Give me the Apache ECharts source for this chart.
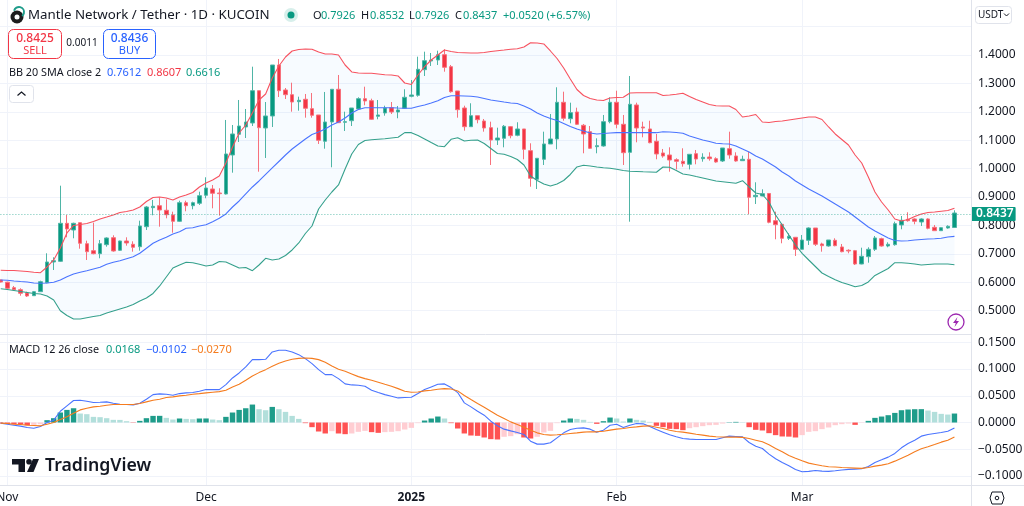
<!DOCTYPE html>
<html><head><meta charset="utf-8">
<style>html,body{margin:0;padding:0;background:#fff}#c{width:1024px;height:506px}</style>
<script src="https://cdn.jsdelivr.net/npm/echarts@6/dist/echarts.min.js"></script>
</head><body><div id="c"></div>
<script>
const opens=[.6078,.6001,.5807,.5736,.5620,.5525,.5666,.5983,.6712,.6736,.8074,.7838,.8096,.7356,.7110,.7004,.7321,.7567,.7124,.7451,.7335,.7250,.7955,.8624,.8694,.8532,.8367,.8145,.8800,.8694,.8779,.9060,.9282,.9141,.9106,1.0479,1.1208,1.1465,1.1606,1.2743,1.1430,1.1853,1.3648,1.2768,1.2603,1.2356,1.2441,1.2110,1.1888,1.0962,1.1641,1.2793,1.1631,1.1687,1.2099,1.2462,1.2391,1.1842,1.1958,1.2145,1.1993,1.2124,1.2546,1.2581,1.3483,1.3789,1.3824,1.4011,1.3588,1.2733,1.2134,1.1476,1.1863,1.1676,1.1441,1.1007,1.1067,1.1476,1.1173,1.1395,1.0631,.9624,1.0328,1.0867,1.1043,1.2335,1.1757,1.1993,1.1525,1.1300,1.0772,1.0796,1.1652,1.2335,1.1560,1.0574,1.2240,1.1465,1.1395,1.0962,1.0550,1.0479,1.0314,1.0257,1.0152,1.0525,1.0349,1.0409,1.0349,1.0268,1.0701,1.0444,1.0279,1.0328,.9011,.9036,.9124,.8166,.8039,.7546,.7581,.7159,.7476,.7909,.7346,.7275,.7476,.7240,.7124,.7110,.6641,.6899,.7159,.7532,.7275,.7321,.8015,.8215,.8226,.8120,.8226,.7933,.7814,.7909,.7926];
const closes=[.6008,.5786,.5736,.5610,.5515,.5666,.6018,.6712,.6758,.8074,.7874,.8074,.7370,.7074,.7004,.7356,.7557,.7099,.7451,.7381,.7229,.7979,.8648,.8673,.8543,.8377,.8145,.8800,.8694,.8800,.9046,.9317,.9131,.9117,1.0515,1.1219,1.1500,1.1641,1.2743,1.1441,1.1853,1.3648,1.2743,1.2603,1.2345,1.2405,1.2124,1.1877,1.0997,1.1641,1.2793,1.1617,1.1652,1.2134,1.2462,1.2381,1.1736,1.1888,1.2134,1.1993,1.2064,1.2511,1.2592,1.3497,1.3800,1.3824,1.4011,1.3567,1.2708,1.2074,1.1476,1.1863,1.1722,1.1430,1.1007,1.1078,1.1490,1.1159,1.1395,1.0680,.9659,1.0363,1.0867,1.1043,1.2335,1.1772,1.1969,1.1560,1.1219,1.0715,1.0807,1.1652,1.2335,1.1560,1.0560,1.2265,1.1430,1.1430,1.0912,1.0515,1.0444,1.0303,1.0257,1.0173,1.0504,1.0338,1.0398,1.0349,1.0233,1.0726,1.0479,1.0268,1.0328,.8990,.9060,.9117,.8110,.8025,.7546,.7617,.7159,.7486,.7909,.7335,.7286,.7486,.7286,.7074,.7099,.6641,.6913,.7159,.7557,.7275,.7335,.8060,.8180,.8166,.8145,.8226,.7898,.7814,.7919,.7969,.8437];
const highs=[.6096,.6018,.5867,.5786,.5666,.5691,.6053,.7018,.6877,.9398,.8367,.8096,.8096,.7462,.8096,.7486,.7581,.7652,.7462,.7581,.7440,.8166,.8684,.8895,.8990,.8919,.8483,.8870,.8870,.8835,.9187,.9694,.9423,.9307,1.1712,1.1535,1.2416,1.2099,1.3588,1.2743,1.2345,1.3648,1.3860,1.2838,1.3025,1.2532,1.2627,1.2662,1.1888,1.2698,1.2793,1.3296,1.2004,1.2134,1.2511,1.2884,1.2462,1.2416,1.2215,1.2345,1.2205,1.2793,1.3120,1.3941,1.4117,1.4071,1.4152,1.4201,1.3648,1.2733,1.2215,1.2300,1.1863,1.1747,1.1652,1.1441,1.1535,1.1500,1.1631,1.1395,1.0891,1.0363,1.1300,1.1923,1.2863,1.2708,1.2321,1.2145,1.1571,1.1500,1.1067,1.1888,1.2511,1.2743,1.1888,1.3261,1.2321,1.1652,1.1687,1.1219,1.0691,1.0750,1.0363,1.0715,1.0504,1.0655,1.0539,1.0574,1.0398,1.0726,1.1300,1.0574,1.0455,1.0585,.9518,.9271,.9141,.8483,.8074,.7722,.7592,.7662,.7933,.7909,.7391,.7486,.7546,.7346,.7159,.7135,.7215,.7229,.7627,.7567,.7405,.8131,.8331,.8462,.8250,.8250,.8250,.8015,.7933,.8004,.8532];
const lows=[.5990,.5752,.5701,.5525,.5480,.5515,.5655,.5962,.6430,.6712,.7581,.7546,.7180,.6782,.6983,.6842,.7250,.7074,.7099,.7286,.7074,.7110,.7838,.8356,.7955,.8250,.7743,.8120,.8497,.8567,.8719,.8955,.8602,.8342,.9088,.9856,1.0937,1.1078,1.1500,.9891,1.0374,1.1465,1.2521,1.2451,1.2004,1.2039,1.1793,1.1793,1.0867,1.0701,1.0046,1.1606,1.1324,1.1500,1.2064,1.2229,1.1712,1.1736,1.1863,1.1923,1.1772,1.2099,1.2511,1.2532,1.3261,1.3613,1.3648,1.3412,1.2673,1.1793,1.1335,1.1465,1.1595,1.1300,1.0127,1.0831,1.0750,1.1067,1.1138,1.0328,.9363,.9282,1.0127,1.0867,1.0680,1.1687,1.1595,1.1536,1.0539,1.0691,1.0539,1.0772,1.1595,1.1419,1.0127,.8131,1.0926,1.1102,1.0891,1.0328,1.0384,.9891,.9971,1.0067,.9971,1.0152,1.0243,1.0279,1.0208,1.0233,1.0349,1.0243,1.0268,.8391,.8754,.9025,.8074,.7511,.7370,.7486,.6923,.7152,.7310,.7275,.7074,.7250,.7265,.7053,.7018,.6606,.6631,.6687,.7099,.7250,.7229,.7286,.7863,.8131,.8039,.7979,.7863,.7803,.7803,.7884,.7926];
const bbUpper=[.6420,.6412,.6412,.6395,.6377,.6349,.6335,.6536,.6782,.7205,.7733,.7997,.8032,.8067,.8138,.8226,.8296,.8367,.8455,.8490,.8543,.8648,.8842,.8983,.9000,.8965,.8895,.9000,.9071,.9159,.9353,.9493,.9599,.9740,1.0198,1.0761,1.1254,1.1535,1.1958,1.2416,1.2627,1.3191,1.3613,1.3930,1.4141,1.4194,1.4212,1.4201,1.4106,1.4036,1.4036,1.4000,1.3648,1.3402,1.3367,1.3356,1.3356,1.3331,1.3307,1.3296,1.3261,1.3014,1.2962,1.3296,1.3588,1.3824,1.4000,1.4176,1.4124,1.4088,1.4081,1.4071,1.4071,1.4088,1.4124,1.4152,1.4176,1.4201,1.4222,1.4282,1.4433,1.4423,1.4388,1.4141,1.3877,1.3543,1.3155,1.2786,1.2574,1.2469,1.2416,1.2398,1.2486,1.2504,1.2511,1.2662,1.2673,1.2673,1.2673,1.2673,1.2574,1.2592,1.2617,1.2652,1.2539,1.2433,1.2345,1.2257,1.2212,1.2205,1.2205,1.2081,1.1817,1.1853,1.1905,1.1641,1.1624,1.1659,1.1676,1.1712,1.1747,1.1782,1.1817,1.1817,1.1729,1.1465,1.1219,1.1025,1.0831,1.0479,1.0198,.9705,.9176,.8824,.8543,.8226,.8155,.8208,.8314,.8402,.8455,.8472,.8500,.8525,.8607];
const bbMiddle=[.6078,.6067,.6043,.6025,.6008,.5972,.5962,.5972,.5997,.6078,.6194,.6289,.6349,.6405,.6465,.6525,.6631,.6701,.6758,.6828,.6898,.7018,.7194,.7370,.7486,.7581,.7698,.7779,.7898,.7919,.7979,.8025,.8131,.8250,.8402,.8648,.8860,.9106,.9353,.9564,.9793,1.0022,1.0250,1.0479,1.0691,1.0867,1.1043,1.1201,1.1289,1.1395,1.1536,1.1641,1.1782,1.1958,1.2081,1.2145,1.2145,1.2145,1.2145,1.2145,1.2134,1.2124,1.2124,1.2187,1.2240,1.2310,1.2391,1.2504,1.2567,1.2567,1.2557,1.2546,1.2522,1.2469,1.2416,1.2381,1.2345,1.2310,1.2293,1.2205,1.2099,1.1958,1.1853,1.1765,1.1694,1.1588,1.1483,1.1395,1.1324,1.1254,1.1219,1.1236,1.1254,1.1265,1.1265,1.1265,1.1265,1.1265,1.1265,1.1265,1.1300,1.1289,1.1272,1.1243,1.1148,1.1078,1.1007,1.0955,1.0891,1.0877,1.0867,1.0796,1.0691,1.0585,1.0444,1.0338,1.0198,1.0057,.9881,.9740,.9564,.9423,.9282,.9159,.9036,.8895,.8754,.8613,.8472,.8296,.8120,.7944,.7803,.7680,.7557,.7469,.7451,.7462,.7486,.7504,.7522,.7532,.7546,.7592,.7612];
const bbLower=[.5772,.5744,.5708,.5673,.5638,.5603,.5585,.5515,.5374,.4997,.4828,.4704,.4704,.4750,.4793,.4828,.4916,.4986,.5057,.5127,.5215,.5339,.5444,.5603,.5867,.6184,.6500,.6606,.6701,.6687,.6631,.6571,.6606,.6729,.6712,.6606,.6500,.6518,.6405,.6606,.6842,.6782,.6817,.6940,.7134,.7381,.7715,.7979,.8578,.8895,.9176,.9423,.9986,1.0515,1.0849,1.0990,1.1018,1.1036,1.1050,1.1078,1.1102,1.1265,1.1265,1.1166,1.1043,1.0919,1.0796,1.0772,1.1032,1.1088,1.0972,1.0997,1.1007,1.0884,1.0708,1.0532,1.0504,1.0426,1.0321,1.0127,.9740,.9581,.9458,.9388,.9458,.9581,.9793,1.0057,1.0117,1.0092,1.0057,1.0032,1.0011,.9976,.9934,.9905,.9898,.9888,.9881,.9870,1.0057,1.0046,.9934,.9810,.9775,.9722,.9670,.9617,.9564,.9539,.9511,.9483,.9574,.9353,.9141,.9088,.8824,.8367,.8015,.7662,.7310,.7018,.6782,.6553,.6324,.6201,.6088,.5990,.5919,.5842,.5884,.6008,.6237,.6360,.6483,.6687,.6687,.6666,.6641,.6606,.6624,.6641,.6641,.6641,.6616];
const macdLine=[-.0012,-.0031,-.0050,-.0068,-.0093,-.0106,-.0075,0,.0044,.0211,.0311,.0411,.0417,.0398,.0373,.0379,.0386,.0361,.0342,.0336,.0330,.0361,.0435,.0522,.0535,.0529,.0510,.0541,.0554,.0560,.0585,.0616,.0616,.0616,.0709,.0833,.0927,.1039,.1176,.1176,.1182,.1319,.1350,.1350,.1319,.1269,.1194,.1101,.0989,.0896,.0896,.0821,.0722,.0703,.0697,.0678,.0603,.0560,.0522,.0491,.0460,.0467,.0473,.0541,.0616,.0666,.0715,.0722,.0653,.0560,.0367,.0292,.0211,.0137,.0025,-.0062,-.0124,-.0156,-.0187,-.0224,-.0348,-.0404,-.0404,-.0379,-.0286,-.0193,-.0131,-.0106,-.0100,-.0124,-.0180,-.0143,-.0050,-.0031,-.0093,-.0050,-.0019,-.0025,-.0075,-.0131,-.0180,-.0230,-.0267,-.0299,-.0311,-.0317,-.0317,-.0317,-.0317,-.0286,-.0255,-.0261,-.0267,-.0373,-.0442,-.0485,-.0591,-.0678,-.0746,-.0809,-.0877,-.0921,-.0914,-.0896,-.0908,-.0914,-.0902,-.0889,-.0877,-.0871,-.0865,-.0821,-.0746,-.0697,-.0647,-.0578,-.0473,-.0392,-.0330,-.0255,-.0224,-.0205,-.0187,-.0162,-.0102];
const signalLine=[-.0012,-.0019,-.0031,-.0037,-.0050,-.0056,-.0062,-.0031,0,.0056,.0106,.0174,.0236,.0267,.0292,.0305,.0323,.0336,.0336,.0336,.0336,.0355,.0386,.0417,.0435,.0467,.0479,.0498,.0510,.0529,.0541,.0554,.0566,.0578,.0603,.0666,.0715,.0790,.0871,.0933,.0989,.1051,.1107,.1151,.1182,.1200,.1207,.1200,.1176,.1126,.1057,.0995,.0958,.0908,.0858,.0821,.0790,.0753,.0715,.0678,.0634,.0585,.0566,.0572,.0591,.0603,.0622,.0634,.0628,.0591,.0504,.0429,.0355,.0286,.0211,.0137,.0075,.0012,-.0037,-.0087,-.0143,-.0193,-.0224,-.0236,-.0230,-.0218,-.0205,-.0193,-.0180,-.0174,-.0174,-.0162,-.0143,-.0124,-.0112,-.0093,-.0081,-.0068,-.0062,-.0087,-.0112,-.0143,-.0168,-.0180,-.0199,-.0218,-.0236,-.0255,-.0267,-.0271,-.0274,-.0274,-.0277,-.0299,-.0330,-.0361,-.0417,-.0485,-.0547,-.0616,-.0666,-.0715,-.0759,-.0784,-.0809,-.0827,-.0833,-.0840,-.0846,-.0852,-.0858,-.0840,-.0815,-.0796,-.0771,-.0722,-.0666,-.0610,-.0547,-.0491,-.0454,-.0411,-.0367,-.0330,-.0270];
const histogram=[-.0019,-.0025,-.0031,-.0037,-.0050,-.0044,-.0031,.0044,.0081,.0187,.0236,.0267,.0168,.0156,.0106,.0100,.0081,.0050,.0049,.0025,-.0006,.0031,.0081,.0124,.0125,.0087,.0056,.0075,.0068,.0062,.0075,.0076,.0056,.0044,.0106,.0187,.0236,.0267,.0336,.0249,.0230,.0292,.0249,.0199,.0124,.0068,-.0012,-.0087,-.0168,-.0205,-.0162,-.0205,-.0218,-.0205,-.0174,-.0156,-.0180,-.0193,-.0180,-.0174,-.0162,-.0131,-.0100,-.0012,.0037,.0075,.0112,.0075,-.0012,-.0112,-.0205,-.0243,-.0249,-.0280,-.0311,-.0317,-.0267,-.0255,-.0218,-.0280,-.0299,-.0267,-.0187,-.0156,-.0012,.0037,.0075,.0068,.0050,.0012,-.0025,.0025,.0093,.0075,.0019,.0075,.0050,.0037,.0012,-.0062,-.0087,-.0118,-.0124,-.0143,-.0106,-.0087,-.0068,-.0050,-.0044,-.0019,.0006,.0012,.0006,-.0087,-.0137,-.0149,-.0199,-.0236,-.0261,-.0264,-.0280,-.0236,-.0174,-.0162,-.0124,-.0093,-.0050,-.0031,-.0019,-.0044,-.0006,.0031,.0087,.0112,.0137,.0180,.0230,.0243,.0249,.0250,.0224,.0199,.0162,.0149,.0168];
const monthLabels={1:'Nov',31:'Dec',62:'2025',93:'Feb',121:'Mar'};
const priceTicks=[.5,.6,.7,.8,.9,1,1.1,1.2,1.3,1.4];
const lastPrice=0.8437;
const categories=[];
{const d=new Date(Date.UTC(2024,9,31));for(let i=0;i<147;i++){categories.push(d.toISOString().slice(0,10));d.setUTCDate(d.getUTCDate()+1);}}

const FONT='"Noto Sans",sans-serif';
const UP='#089981',DOWN='#f23645',INK='#131722';
const BLUE='#2962ff';
const candles=opens.map((o,i)=>[o,closes[i],lows[i],highs[i]]);
const bandWidth=bbUpper.map((u,i)=>+(u-bbLower[i]).toFixed(4));
const histBars=histogram.map((v,i)=>{
  const p=i?histogram[i-1]:0;
  const color=v>=0?(v>=p?'#1e9c8a':'#b2dfdb'):(v<=p?'#ff5252':'#ffcdd2');
  return {value:v,itemStyle:{color}};
});
const t=(text,x,y,size,fill,extra)=>({type:'text',silent:true,z:20,style:Object.assign({text,x,y,fontSize:size,fill,fontFamily:FONT,textVerticalAlign:'middle',verticalAlign:'middle'},extra||{})});
const ln=(x1,y1,x2,y2)=>({type:'line',silent:true,z:15,shape:{x1,y1,x2,y2},style:{stroke:'#e0e3eb',lineWidth:1}});
const graphic=[
 ln(0,334.5,971,334.5),ln(971.5,0,971.5,506),ln(0,485.5,1024,485.5),
 {type:'circle',silent:true,z:20,shape:{cx:17,cy:17,r:6.5},style:{fill:'#1c1c1c'}},
 {type:'circle',silent:true,z:21,shape:{cx:17,cy:17,r:2.5},style:{fill:'#fff'}},
 {type:'arc',silent:true,z:20,shape:{cx:19,cy:12,r:5,startAngle:-2.9,endAngle:0.9},style:{stroke:'#1e9c8a',lineWidth:2,fill:'none'}},
 t('Mantle Network / Tether · 1D · KUCOIN',28,15.5,13.3,INK),
 {type:'circle',silent:true,z:20,shape:{cx:291,cy:15,r:7},style:{fill:'#d7efeb'}},
 {type:'circle',silent:true,z:21,shape:{cx:291,cy:15,r:3.5},style:{fill:UP}},
 t('O',313,15.5,11,INK),t('0.7926',321,15.5,11,UP),
 t('H',361,15.5,11,INK),t('0.8532',370,15.5,11,UP),
 t('L',409,15.5,11,INK),t('0.7926',415,15.5,11,UP),
 t('C',455,15.5,11,INK),t('0.8437',463,15.5,11,UP),
 t('+0.0520 (+6.57%)',503,15.5,11,UP),
 {type:'rect',silent:true,z:20,shape:{x:8.5,y:29.5,width:53,height:29,r:5},style:{fill:'#fff',stroke:DOWN,lineWidth:1}},
 t('0.8425',35,38.5,12,DOWN,{align:'center',textAlign:'center',fontWeight:500}),
 t('SELL',35,50.5,11,DOWN,{align:'center',textAlign:'center'}),
 t('0.0011',82,43.5,10,INK,{align:'center',textAlign:'center'}),
 {type:'rect',silent:true,z:20,shape:{x:103.5,y:29.5,width:52,height:29,r:5},style:{fill:'#fff',stroke:BLUE,lineWidth:1}},
 t('0.8436',129.5,38.5,12,BLUE,{align:'center',textAlign:'center',fontWeight:500}),
 t('BUY',129.5,50.5,11,BLUE,{align:'center',textAlign:'center'}),
 t('BB 20 SMA close 2',9,73,10.8,INK),t('0.7612',107,73,11,BLUE),t('0.8607',147,73,11,DOWN),t('0.6616',186,73,11,UP),
 {type:'rect',silent:true,z:20,shape:{x:9.5,y:85.5,width:24,height:17,r:3},style:{fill:'#fff',stroke:'#e0e3eb',lineWidth:1}},
 {type:'polyline',silent:true,z:21,shape:{points:[[17.5,95.5],[21.5,92],[25.5,95.5]]},style:{stroke:INK,lineWidth:1.2,fill:'none'}},
 t('MACD 12 26 close',9,349.5,10.8,INK),t('0.0168',106,349.5,11,UP),t('−0.0102',146,349.5,11,BLUE),t('−0.0270',191,349.5,11,'#f57c1f'),
 {type:'polygon',silent:true,z:20,shape:{points:[[12,459],[25,459],[25,472],[18.5,472],[18.5,464.5],[12,464.5]]},style:{fill:INK}},
 {type:'circle',silent:true,z:20,shape:{cx:29,cy:461.8,r:2.8},style:{fill:INK}},
 {type:'polygon',silent:true,z:20,shape:{points:[[33,459],[39,459],[33.5,472],[27,472]]},style:{fill:INK}},
 t('TradingView',45,466,17.7,INK,{fontWeight:600}),
 {type:'rect',silent:true,z:20,shape:{x:975.5,y:6.5,width:36,height:17,r:3},style:{fill:'#fff',stroke:'#e0e3eb',lineWidth:1}},
 t('USDT',978,15,10,INK),
 {type:'polyline',silent:true,z:21,shape:{points:[[1004,13.5],[1006.5,16],[1009,13.5]]},style:{stroke:INK,lineWidth:1,fill:'none'}},
 {type:'circle',silent:true,z:20,shape:{cx:956,cy:322,r:8},style:{fill:'#fff',stroke:'#9c27b0',lineWidth:1.3}},
 {type:'polygon',silent:true,z:21,shape:{points:[[957.5,317],[953,323],[955.8,323],[954.5,327],[959,321],[956.2,321]]},style:{fill:'#9c27b0'}},
 {type:'polygon',silent:true,z:20,shape:{points:[[992,492],[1002,492],[1004,498],[1002,504],[992,504],[990,498]]},style:{fill:'#fff',stroke:INK,lineWidth:1}},
 {type:'circle',silent:true,z:21,shape:{cx:997,cy:498,r:1.8},style:{fill:'#fff',stroke:INK,lineWidth:1}}
];
const gridLeft=-2.6,gridRight=53;
const chart=echarts.init(document.getElementById('c'),null,{renderer:'canvas'});
const hiddenX=i=>({type:'category',gridIndex:i,data:categories,show:false,boundaryGap:true});
chart.setOption({
 animation:false,backgroundColor:'#fff',textStyle:{fontFamily:FONT},
 grid:[
  {left:gridLeft,right:gridRight,top:-1.8,height:340.8,outerBoundsMode:'none'},
  {left:gridLeft,right:gridRight,top:342.3,height:133.7,outerBoundsMode:'none'},
  {left:gridLeft,right:gridRight,top:0,height:485,outerBoundsMode:'none'}
 ],
 xAxis:[hiddenX(0),hiddenX(1),{
  type:'category',gridIndex:2,data:categories,boundaryGap:true,
  axisLine:{show:false},axisTick:{show:false},
  splitLine:{show:true,alignWithLabel:true,interval:i=>i in monthLabels,lineStyle:{color:'#f0f3fa',width:1}},
  axisLabel:{interval:i=>i in monthLabels,margin:7,fontSize:12,color:INK,fontFamily:FONT,
   formatter:(v,i)=>{const s=monthLabels[i]||'';return s==='2025'?'{b|2025}':s;},
   rich:{b:{fontWeight:700,fontSize:12,color:INK,fontFamily:FONT}}}
 }],
 yAxis:[
  {type:'value',gridIndex:0,position:'right',min:.4,max:1.6,interval:.1,
   axisLine:{show:false},axisTick:{show:false},
   splitLine:{show:true,lineStyle:{color:['transparent','#f0f3fa','#f0f3fa','#f0f3fa','#f0f3fa','#f0f3fa','#f0f3fa','#f0f3fa','#f0f3fa','#f0f3fa','#f0f3fa','#f0f3fa','transparent']}},
   axisLabel:{margin:7,fontSize:12,color:INK,fontFamily:FONT,align:'left',
    formatter:v=>priceTicks.some(p=>Math.abs(p-v)<1e-6)?v.toFixed(4):''}},
  {type:'value',gridIndex:1,position:'right',min:-.1,max:.15,interval:.05,
   axisLine:{show:false},axisTick:{show:false},
   splitLine:{show:true,lineStyle:{color:'#f0f3fa'}},
   axisLabel:{margin:7,fontSize:12,color:INK,fontFamily:FONT,align:'left',
    formatter:v=>(v<-1e-9?'−':'')+Math.abs(v).toFixed(4)}},
  {type:'value',gridIndex:2,show:false,min:0,max:1}
 ],
 series:[
  {type:'line',name:'BB base',xAxisIndex:0,yAxisIndex:0,data:bbLower,stack:'bb',symbol:'none',lineStyle:{opacity:0},silent:true,z:1},
  {type:'line',name:'BB band',xAxisIndex:0,yAxisIndex:0,data:bandWidth,stack:'bb',symbol:'none',lineStyle:{opacity:0},areaStyle:{color:'rgba(33,150,243,0.05)'},silent:true,z:1},
  {type:'candlestick',name:'MNT/USDT',xAxisIndex:0,yAxisIndex:0,data:candles,barWidth:4,z:3,
   itemStyle:{color:UP,color0:DOWN,borderColor:'#4fb5a6',borderColor0:'#f7717c',borderWidth:1},
   markLine:{silent:true,symbol:'none',animation:false,data:[{yAxis:lastPrice}],
    lineStyle:{color:'rgba(8,153,129,0.6)',type:[1,2],width:1},
    label:{position:'end',distance:0,formatter:'0.8437',color:'#fff',backgroundColor:UP,fontSize:12,fontFamily:FONT,fontWeight:600,padding:[1,2,1,5],borderRadius:1}}},
  {type:'line',name:'BB upper',xAxisIndex:0,yAxisIndex:0,data:bbUpper,symbol:'none',lineStyle:{color:'#f7525f',width:1.1},z:4},
  {type:'line',name:'BB basis',xAxisIndex:0,yAxisIndex:0,data:bbMiddle,symbol:'none',lineStyle:{color:'#4a74ff',width:1.1},z:4},
  {type:'line',name:'BB lower',xAxisIndex:0,yAxisIndex:0,data:bbLower,symbol:'none',lineStyle:{color:'#35a08c',width:1.1},z:4},
  {type:'bar',name:'Histogram',xAxisIndex:1,yAxisIndex:1,data:histBars,barWidth:5.4,z:2},
  {type:'line',name:'MACD',xAxisIndex:1,yAxisIndex:1,data:macdLine,symbol:'none',lineStyle:{color:'#4a74ff',width:1.1},z:3},
  {type:'line',name:'Signal',xAxisIndex:1,yAxisIndex:1,data:signalLine,symbol:'none',lineStyle:{color:'#f57c1f',width:1.1},z:3}
 ],
 graphic:{elements:graphic}
});
</script></body></html>
